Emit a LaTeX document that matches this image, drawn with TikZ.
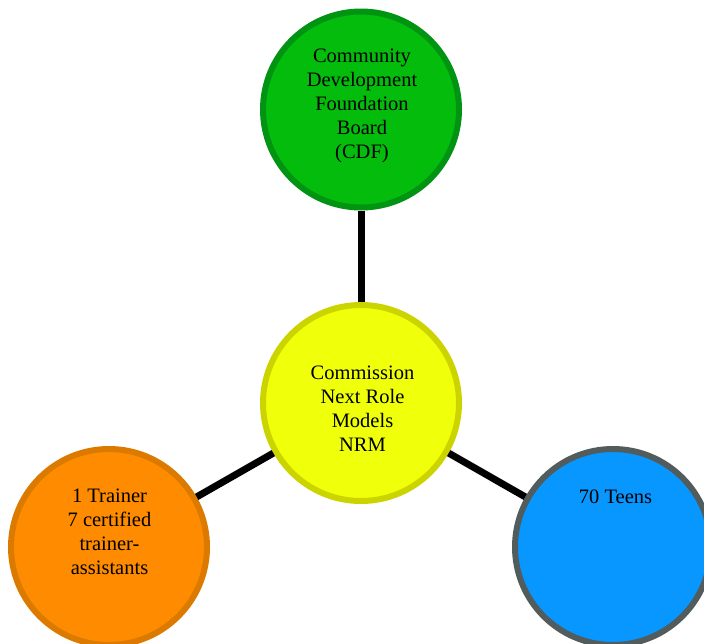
\documentclass[tikz,border=0pt]{standalone}
\usepackage{fontspec}
\setmainfont{Liberation Serif}
\definecolor{gfill}{RGB}{4,188,12}
\definecolor{gline}{RGB}{0,148,18}
\definecolor{yfill}{RGB}{240,255,10}
\definecolor{yline}{RGB}{204,212,0}
\definecolor{ofill}{RGB}{255,139,0}
\definecolor{oline}{RGB}{220,122,0}
\definecolor{bfill}{RGB}{8,150,255}
\definecolor{bline}{RGB}{82,92,92}
\begin{document}
\begin{tikzpicture}[x=1pt,y=-1pt,
  bubble/.style={circle,minimum size=196pt,inner sep=0pt,line width=6pt},
  lbl/.style={anchor=north,inner sep=0pt,align=center,
    font=\fontsize{20.5}{24}\selectfont},
  link/.style={line width=7pt,black}]
\useasboundingbox (0,0) rectangle (704,643);
\node[bubble,fill=gfill,draw=gline] (cdf) at (361,109.5) {};
\node[bubble,fill=yfill,draw=yline] (nrm) at (361,403) {};
\node[bubble,fill=ofill,draw=oline] (trn) at (109,547) {};
\node[bubble,fill=bfill,draw=bline] (teen) at (613,547) {};
\draw[link] (cdf) -- (nrm);
\draw[link] (nrm) -- (trn);
\draw[link] (nrm) -- (teen);
\node[lbl] (tcdf) at (362,49) {Community\\Development\\Foundation\\Board\\(CDF)};
\node[lbl] (tnrm) at (362.5,366) {Commission\\Next Role\\Models\\NRM};
\node[lbl] (ttrn) at (109.5,489) {1 Trainer\\7 certified\\trainer-\\assistants};
\node[lbl] (tteen) at (615.5,490) {70 Teens};
\end{tikzpicture}
\end{document}
